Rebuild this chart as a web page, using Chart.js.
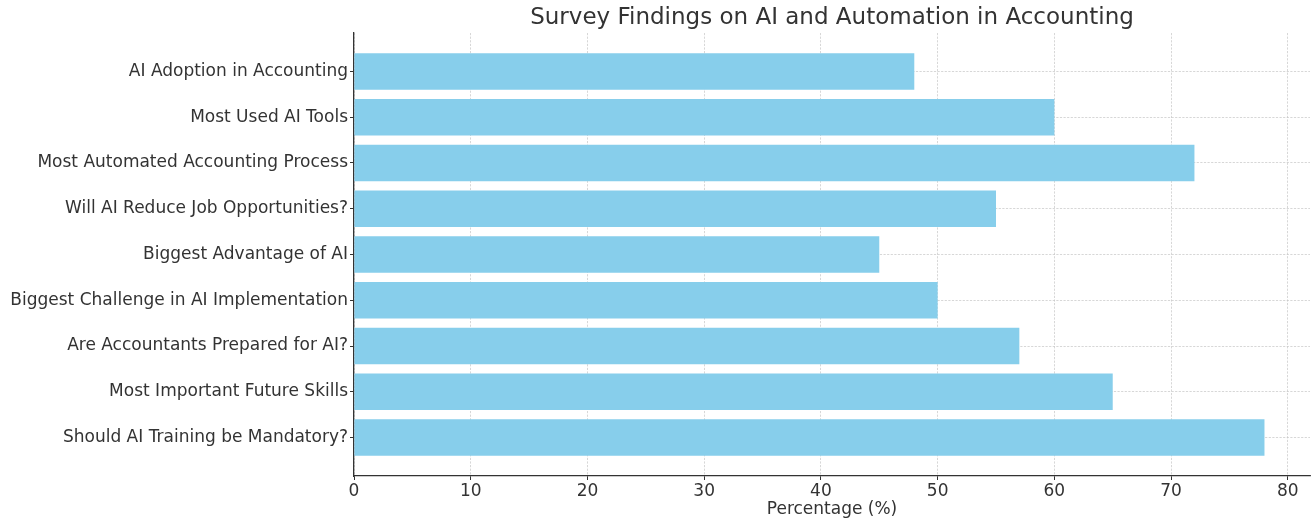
<!DOCTYPE html>
<html>
<head>
<meta charset="utf-8">
<script src="https://cdn.jsdelivr.net/npm/chart.js@4/dist/chart.umd.min.js"></script>
<style>
html,body{margin:0;padding:0;background:#fff;}
#wrap{width:1316px;height:521px;position:relative;}
</style>
</head>
<body>
<div id="wrap"><canvas id="c" width="1316" height="521"></canvas></div>
<script>
const categories = [
  "AI Adoption in Accounting",
  "Most Used AI Tools",
  "Most Automated Accounting Process",
  "Will AI Reduce Job Opportunities?",
  "Biggest Advantage of AI",
  "Biggest Challenge in AI Implementation",
  "Are Accountants Prepared for AI?",
  "Most Important Future Skills",
  "Should AI Training be Mandatory?"
];
const percentages = [48, 60, 72, 55, 45, 50, 57, 65, 78];
const xTicks = [0, 10, 20, 30, 40, 50, 60, 70, 80];
const chartTitle = "Survey Findings on AI and Automation in Accounting";
const xTitle = "Percentage (%)";

const FONT = "'DejaVu Sans', sans-serif";
const TXT = '#333333';
const GRID = 'rgba(195,195,195,0.85)';

const points = categories.map((c, i) => ({ x: percentages[i], y: i }));

new Chart(document.getElementById('c'), {
  type: 'bar',
  data: {
    datasets: [{
      data: points,
      backgroundColor: '#87CEEB',
      borderWidth: 0,
      barPercentage: 0.8,
      categoryPercentage: 1.0
    }]
  },
  options: {
    indexAxis: 'y',
    responsive: false,
    animation: false,
    layout: { padding: { left: 0, right: 6, top: 0, bottom: 0 } },
    plugins: { legend: { display: false }, tooltip: { enabled: false }, title: { display: false } },
    scales: {
      x: {
        type: 'linear',
        position: 'bottom',
        min: 0,
        max: 81.9,
        offset: false,
        z: 1,
        afterBuildTicks: (axis) => { axis.ticks = xTicks.map(v => ({ value: v })); },
        afterFit: (axis) => { axis.height = 45; },
        ticks: { color: TXT, font: { family: FONT, size: 17 }, padding: 1, maxRotation: 0 },
        grid: { color: GRID, lineWidth: 0.8, offset: false, tickColor: TXT, tickBorderDash: [], tickLength: 4, tickWidth: 1 },
        border: { display: true, color: TXT, width: 1.3, dash: [2.2, 1.4] },
        title: { display: true, text: xTitle, color: TXT, font: { family: FONT, size: 17 }, padding: { top: 0, bottom: 1 } }
      },
      xTop: {
        type: 'linear',
        position: 'top',
        axis: 'x',
        display: true,
        grid: { display: false, drawTicks: false },
        border: { display: false },
        ticks: { display: false },
        title: { display: true, text: chartTitle, color: TXT, font: { family: FONT, size: 23 }, padding: { top: 4, bottom: 0 } },
        afterFit: (axis) => { axis.height = 33; }
      },
      y: {
        type: 'linear',
        reverse: true,
        min: -0.84,
        max: 8.84,
        offset: false,
        z: 1,
        afterBuildTicks: (axis) => { axis.ticks = categories.map((c, i) => ({ value: i })); },
        afterFit: (axis) => { axis.width = 354; },
        ticks: {
          color: TXT, font: { family: FONT, size: 17 }, padding: 2,
          callback: (v) => categories[v]
        },
        grid: { color: GRID, lineWidth: 0.8, offset: false, tickColor: TXT, tickBorderDash: [], tickLength: 4, tickWidth: 1 },
        border: { display: true, color: TXT, width: 1.3, dash: [2.2, 1.4] }
      }
    }
  }
});
</script>
</body>
</html>
